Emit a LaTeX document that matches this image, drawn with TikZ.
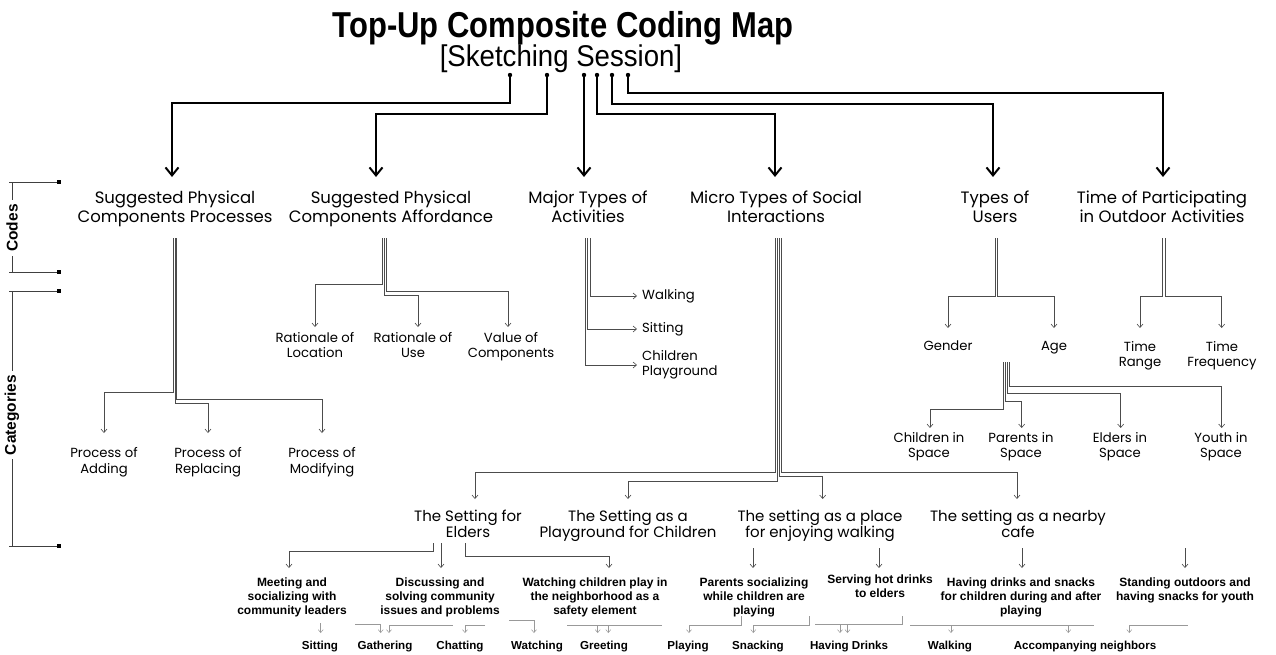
\documentclass[tikz,border=0pt]{standalone}
\usepackage{fontspec}
\setmainfont{Poppins}
\newfontfamily\arialfont{Liberation Sans}
\newfontfamily\titlefont{Liberation Sans}[FakeStretch=0.86]
\newfontfamily\sessionfont{Liberation Sans}[FakeStretch=0.92]
\usetikzlibrary{arrows.meta}

\begin{document}
\begin{tikzpicture}[x=1pt,y=-1pt,
  big/.style={line width=2.6pt,-{Straight Barb[length=8pt,width=13pt,line width=2pt]}},
  stem/.style={draw=black!70,line width=0.6pt},
  sarr/.style={stem,-{Straight Barb[length=3.5pt,width=6pt,line width=0.6pt]}},
  gline/.style={draw=black!40,line width=0.6pt},
  garr/.style={gline,-{Straight Barb[length=3pt,width=5pt,line width=0.5pt]}},
  code/.style={anchor=north,align=center,inner xsep=0pt,inner ysep=14pt,
    font={\fontsize{16.5}{19}\selectfont}},
  cat/.style={anchor=north,align=center,inner xsep=0pt,inner ysep=#1,
    font={\fontsize{13.2}{15.5}\selectfont}},
  catw/.style={anchor=west,align=left,inner xsep=5pt,inner ysep=0pt,
    font={\fontsize{13.2}{15.5}\selectfont}},
  sett/.style={anchor=north,align=center,inner xsep=0pt,inner ysep=11pt,
    font={\fontsize{15}{16}\selectfont}},
  sub/.style={anchor=north,align=center,inner xsep=0pt,inner ysep=#1,
    font={\arialfont\bfseries\fontsize{12}{14}\selectfont}},
  leaf/.style={anchor=base,inner sep=0pt,font={\arialfont\bfseries\fontsize{11.6}{14}\selectfont}},
  side/.style={rotate=90,fill=white,inner xsep=4pt,inner ysep=1pt,
    font={\arialfont\bfseries\fontsize{15.5}{17}\selectfont}},
]
\fill[white] (0,0) rectangle (1276,654);
\path[use as bounding box] (0,0) rectangle (1276,654);

% ---------- heading ----------
\node[font={\titlefont\bfseries\fontsize{36}{40}\selectfont}] (title) at (563,28) {Top-Up Composite Coding Map};
\node[font={\sessionfont\fontsize{30}{34}\selectfont}] (session) at (561,59) {[Sketching Session]};

% ---------- codes ----------
\node[code] (c1) at (175,177) {Suggested Physical\\Components Processes};
\node[code] (c2) at (391,177) {Suggested Physical\\Components Affordance};
\node[code] (c3) at (588,177) {Major Types of\\Activities};
\node[code] (c4) at (776,177) {Micro Types of Social\\Interactions};
\node[code] (c5) at (995,177) {Types of\\Users};
\node[code] (c6) at (1162,177) {Time of Participating\\in Outdoor Activities};

\foreach \n/\x in {1/510,2/547,3/584,4/597,5/612,6/628}{
  \coordinate (p\n) at (\x,75);
  \fill (p\n) circle (2.2);
}
\draw[big] (p1) -- ++(0,28) -| (c1.north -| 172,0);
\draw[big] (p2) -- ++(0,39) -| (c2.north -| 376,0);
\draw[big] (p3) -- (c3.north -| 584,0);
\draw[big] (p4) -- ++(0,39) -| (c4.north -| 775,0);
\draw[big] (p5) -- ++(0,29) -| (c5.north -| 993,0);
\draw[big] (p6) -- ++(0,18) -| (c6.north -| 1163,0);

% ---------- categories: physical components processes ----------
\node[cat=14.5pt] (pa) at (104,433) {Process of\\Adding};
\node[cat=14.5pt] (pr) at (208,433) {Process of\\Replacing};
\node[cat=14.5pt] (pm) at (322,433) {Process of\\Modifying};
\draw[sarr] (173.5,238) |- (104,392) -- (pa.north);
\draw[sarr] (175,238) |- (208,403) -- (pr.north);
\draw[sarr] (176.5,238) |- (322,399) -- (pm.north);

% ---------- categories: physical components affordance ----------
\node[cat=5pt] (r1) at (315,327) {Rationale of\\Location};
\node[cat=5pt] (r2) at (413,327) {Rationale of\\Use};
\node[cat=5pt] (r3) at (511,327) {Value of\\Components};
\draw[sarr] (382,238) |- (315,284) -- (r1.north);
\draw[sarr] (384,238) |- (418,295.7) -- (r2.north -| 418,0);
\draw[sarr] (386.2,238) |- (508,291.7) -- (r3.north -| 508,0);

% ---------- categories: major activities ----------
\node[catw] (wk) at (637,296) {Walking};
\node[catw] (st) at (637,329) {Sitting};
\node[catw] (cp) at (637,365) {Children\\Playground};
\draw[sarr] (590,238) |- (wk.west);
\draw[sarr] (587.5,238) |- (st.west);
\draw[sarr] (585,238) |- (cp.west);

% ---------- categories: micro social interactions ----------
\node[sett] (e1) at (468,499) {The Setting for\\Elders};
\node[sett] (e2) at (628,499) {The Setting as a\\Playground for Children};
\node[sett] (e3) at (820,499) {The setting as a place\\for enjoying walking};
\node[sett] (e4) at (1018,499) {The setting as a nearby\\cafe};
\draw[sarr] (775,238) |- (475,472) -- (e1.north -| 475,0);
\draw[sarr] (777.3,238) |- (628,481) -- (e2.north);
\draw[sarr] (779.5,238) |- (822.7,476) -- (e3.north -| 822.7,0);
\draw[sarr] (781.7,238) |- (1017,472) -- (e4.north -| 1017,0);

% ---------- categories: users ----------
\node[cat=13pt] (ge) at (948,328) {Gender};
\node[cat=13pt] (ag) at (1054,328) {Age};
\draw[sarr] (995,238) |- (948,296) -- (ge.north);
\draw[sarr] (997.3,238) |- (1054,296) -- (ag.north);

\node[cat=4pt] (ci) at (929,428) {Children in\\Space};
\node[cat=4pt] (pi) at (1021,428) {Parents in\\Space};
\node[cat=4pt] (ei) at (1120,428) {Elders in\\Space};
\node[cat=4pt] (yi) at (1221,428) {Youth in\\Space};
\draw[sarr] (1003,362) |- (930,409.3) -- (ci.north -| 930,0);
\draw[sarr] (1005,362) |- (1021.7,401.7) -- (pi.north -| 1021.7,0);
\draw[sarr] (1007,362) |- (1120.7,393.3) -- (ei.north -| 1120.7,0);
\draw[sarr] (1009.3,362) |- (1221.7,386) -- (yi.north -| 1221.7,0);

% ---------- categories: time ----------
\node[cat=13pt] (tr) at (1140,328) {Time\\Range};
\node[cat=13pt] (tf) at (1222,328) {Time\\Frequency};
\draw[sarr] (1162.7,238) |- (1140,296) -- (tr.north);
\draw[sarr] (1165,238) |- (1221.7,296) -- (tf.north -| 1221.7,0);

% ---------- settings: sub-categories ----------
\node[sub=9.5pt] (m1) at (292,568) {Meeting and\\socializing with\\community leaders};
\node[sub=9.5pt] (m2) at (440,568) {Discussing and\\solving community\\issues and problems};
\node[sub=9.5pt] (m3) at (595,568) {Watching children play in\\the neighborhood as a\\safety element};
\draw[sarr] (433,543) |- (289,551) -- (m1.north -| 289,0);
\draw[sarr] (441,543) -- (m2.north -| 441,0);
\draw[sarr] (465,543) |- (609,556) -- (m3.north -| 609,0);

\node[sub=9.5pt] (w1) at (754,568) {Parents socializing\\while children are\\playing};
\node[sub=7pt] (w2) at (880,568) {Serving hot drinks\\to elders};
\node[sub=9.5pt] (f1) at (1021,568) {Having drinks and snacks\\for children during and after\\playing};
\node[sub=9.5pt] (f2) at (1185,568) {Standing outdoors and\\having snacks for youth};
\draw[sarr] (753,548) -- (w1.north -| 753,0);
\draw[sarr] (879,548) -- (w2.north -| 879,0);
\draw[sarr] (1022,548) -- (f1.north -| 1022,0);
\draw[sarr] (1185,548) -- (f2.north);

% ---------- interaction types ----------
\node[leaf] (l1) at (320,649.5) {Sitting};
\node[leaf] (l2) at (385,649.5) {Gathering};
\node[leaf] (l3) at (460,649.5) {Chatting};
\node[leaf] (l4) at (537,649.5) {Watching};
\node[leaf] (l5) at (604,649.5) {Greeting};
\node[leaf] (l6) at (688,649.5) {Playing};
\node[leaf] (l7) at (758,649.5) {Snacking};
\node[leaf] (l8) at (849,649.5) {Having Drinks};
\node[leaf] (l9) at (950,649.5) {Walking};
\node[leaf] (l10) at (1085,649.5) {Accompanying neighbors};

\draw[garr] (320.7,623) -- (320.7,633);
\draw[garr] (355,624.3) -| (380.7,633);
\draw[garr] (452.7,625.3) -| (389,633);
\draw[garr] (485,625) -| (465,633);
\draw[garr] (509,620) -| (534,633);
\draw[gline] (567,625.3) -- (661.7,625.3);
\draw[garr] (597.7,625.3) -- (597.7,633);
\draw[garr] (608.3,625.3) -- (608.3,633);
\draw[garr] (741.7,616) -- (741.7,625.7) -| (689,633);
\draw[garr] (809.3,616) -- (809.3,625.7) -| (753.3,633);
\draw[gline] (902.7,616) -- (902.7,624.7) -- (815,624.7);
\draw[garr] (840,624.7) -- (840,633);
\draw[garr] (847.5,624.7) -- (847.5,633);
\draw[gline] (910,625) -- (1094,625);
\draw[garr] (951,625) -- (951,633);
\draw[garr] (1068.3,625) -- (1068.3,633);
\draw[garr] (1187.7,625) -| (1129.3,633);

% ---------- level brackets ----------
\foreach \y in {182,272,291,546}{
  \draw[black!75,line width=0.7pt] (9,\y) -- (59,\y);
  \fill (57,\y-2) rectangle (61,\y+2);
}
\draw[black!75,line width=0.7pt] (12,182) -- (12,272);
\draw[black!75,line width=0.7pt] (12,291) -- (12,546);
\node[side] (codes) at (12,228) {Codes};
\node[side] (cats) at (12,415) {Categories};
\end{tikzpicture}
\end{document}
